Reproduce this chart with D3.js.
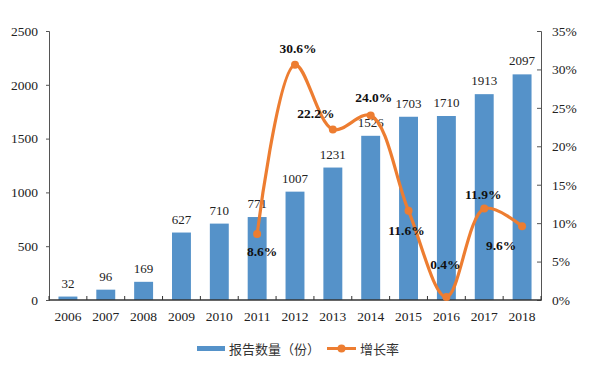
<!DOCTYPE html>
<html><head><meta charset="utf-8">
<script src="https://cdn.jsdelivr.net/npm/d3@7"></script>
<style>body{margin:0;background:#fff}svg{display:block}
.serif{font-family:"Liberation Serif","Times New Roman",Times,serif}
.cjk{font-family:"Noto Sans CJK SC",sans-serif}</style>
</head><body>
<svg id="c" width="592" height="365"></svg>
<script>
const years = ["2006","2007","2008","2009","2010","2011","2012","2013","2014","2015","2016","2017","2018"];
const reports = [32,96,169,627,710,771,1007,1231,1526,1703,1710,1913,2097];
const growthYears = ["2011","2012","2013","2014","2015","2016","2017","2018"];
const growth = [8.6,30.6,22.2,24.0,11.6,0.4,11.9,9.6];
const leftTicks = [0,500,1000,1500,2000,2500];
const rightTicks = [0,5,10,15,20,25,30,35];

const svg = d3.select("#c");
const L = 49, R = 541, T = 31, B = 300;
const blue = "#5592C9", orange = "#ED7D31";

const x = d3.scaleBand().domain(years).range([L, R]).paddingInner(0.5).paddingOuter(0.25);
const y = d3.scaleLinear().domain([0,2500]).range([B, T]);
const y2 = d3.scaleLinear().domain([0,35]).range([B, T]);

// bars
svg.append("g").selectAll("rect").data(years).join("rect")
  .attr("x", d => x(d)).attr("width", x.bandwidth())
  .attr("y", (d,i) => y(reports[i])).attr("height", (d,i) => B - y(reports[i]))
  .attr("fill", blue);
svg.append("g").selectAll("text").data(years).join("text").attr("class","serif")
  .attr("x", d => x(d) + x.bandwidth()/2)
  .attr("y", (d,i) => y(reports[i]) - 9)
  .attr("text-anchor","middle").style("font-size","13px")
  .attr("fill","#222").text((d,i) => reports[i]);

// axes
const axL = d3.axisLeft(y).tickValues(leftTicks).tickSize(3).tickPadding(8).tickFormat(d3.format("d"));
const gL = svg.append("g").attr("transform",`translate(${L},0)`).call(axL);
const axR = d3.axisRight(y2).tickValues(rightTicks).tickSize(-4).tickPadding(11).tickFormat(d => d + "%");
const gR = svg.append("g").attr("transform",`translate(${R},0)`).call(axR);
const xb = d3.scaleLinear().domain([0, years.length]).range([L, R]);
const gX = svg.append("g").attr("transform",`translate(0,${B})`);
gX.append("line").attr("x1",L).attr("x2",R).attr("stroke","#333").attr("stroke-width",1.3);
gX.selectAll("line.t").data(d3.range(years.length+1)).join("line").attr("class","t")
  .attr("x1", d => xb(d)).attr("x2", d => xb(d)).attr("y1",0).attr("y2",-4).attr("stroke","#333");
gX.selectAll("text").data(years).join("text").attr("class","serif")
  .attr("x", d => x(d) + x.bandwidth()/2).attr("y", 21)
  .attr("text-anchor","middle").style("font-size","13.5px").attr("fill","#222").text(d => d);
[gL,gR].forEach(g => {
  g.attr("font-family", null).attr("font-size", null);
  g.selectAll("text").attr("class","serif").style("font-size","13.5px").attr("fill","#222");
  g.selectAll("path.domain").attr("stroke","#555");
  g.selectAll(".tick line").attr("stroke","#555");
});

// line
const px = d => x(d) + x.bandwidth()/2;
const line = d3.line().x((d,i) => px(growthYears[i])).y(d => y2(d)).curve(d3.curveCatmullRom.alpha(0.5));
svg.append("path").datum(growth).attr("d", line).attr("fill","none")
  .attr("stroke", orange).attr("stroke-width", 3.2);
svg.append("g").selectAll("circle").data(growth).join("circle")
  .attr("cx",(d,i) => px(growthYears[i])).attr("cy", d => y2(d)).attr("r",4).attr("fill",orange);
const offs = [[5,22],[3,-12],[-17,-11],[3,-14],[-2,24],[-1,-28],[-1,-10],[-21,24]];
svg.append("g").selectAll("text").data(growth).join("text").attr("class","serif")
  .attr("x",(d,i) => px(growthYears[i]) + offs[i][0]).attr("y",(d,i) => y2(d) + offs[i][1])
  .attr("text-anchor","middle").style("font-weight","bold")
  .style("font-size","13.5px").attr("fill","#111").text(d => d.toFixed(1) + "%");

// legend
const lg = svg.append("g");
lg.append("rect").attr("x",197).attr("y",346).attr("width",28).attr("height",5).attr("fill",blue);
lg.append("text").attr("class","cjk").attr("x",229).attr("y",354).style("font-size","13px").attr("fill","#333").text("报告数量（份）");
lg.append("line").attr("x1",327).attr("x2",356).attr("y1",348.5).attr("y2",348.5).attr("stroke",orange).attr("stroke-width",3);
lg.append("circle").attr("cx",341.5).attr("cy",348.5).attr("r",4).attr("fill",orange);
lg.append("text").attr("class","cjk").attr("x",360).attr("y",354).style("font-size","13px").attr("fill","#333").text("增长率");
</script>
</body></html>
